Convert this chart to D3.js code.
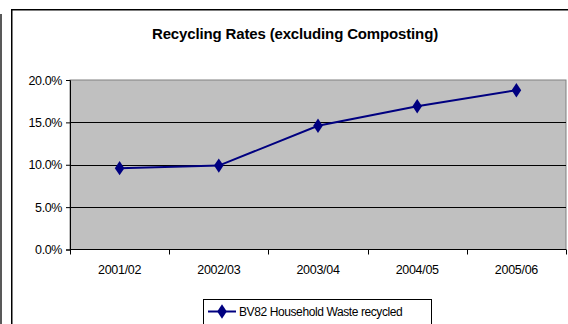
<!DOCTYPE html>
<html>
<head>
<meta charset="utf-8">
<script src="https://cdn.jsdelivr.net/npm/d3@7"></script>
<style>
  html, body { margin: 0; padding: 0; background: #fff; }
  svg { display: block; font-family: "Liberation Sans", Arial, sans-serif; }
</style>
</head>
<body>
<svg id="chart" width="568" height="324"></svg>
<script>
// Recycling rate per financial year (percent)
const years = ["2001/02", "2002/03", "2003/04", "2004/05", "2005/06"];
const recycled = [9.6, 9.9, 14.6, 16.9, 18.8];
const yTicks = [0, 5, 10, 15, 20];
const seriesName = "BV82 Household Waste recycled";
const chartTitle = "Recycling Rates (excluding Composting)";

const svg = d3.select("#chart");
const plot = { left: 70, top: 80, right: 566, bottom: 249.5 };

const x = d3.scaleBand().domain(years).range([plot.left, plot.right]);
const y = d3.scaleLinear().domain([0, 20]).range([plot.bottom, plot.top]);

// Outer page rule and chart frame
svg.append("line").attr("x1", 1).attr("x2", 1).attr("y1", 14).attr("y2", 324)
  .attr("stroke", "#222").attr("stroke-width", 1.5);
svg.append("path").attr("d", "M11.75,324V9.75H568")
  .attr("fill", "none").attr("stroke", "#000").attr("stroke-width", 1.5);

// Title
svg.append("text").attr("x", 295).attr("y", 38.5).attr("text-anchor", "middle")
  .attr("font-size", 15).attr("font-weight", "bold").attr("letter-spacing", -0.15)
  .text(chartTitle);

// Plot background
svg.append("rect").attr("x", plot.left).attr("y", plot.top)
  .attr("width", plot.right - plot.left).attr("height", plot.bottom - plot.top)
  .attr("fill", "#c0c0c0").attr("stroke", "#808080").attr("stroke-width", 1);

// Horizontal gridlines
svg.append("g").selectAll("line").data(yTicks.filter(t => t > 0 && t < 20)).join("line")
  .attr("x1", plot.left).attr("x2", plot.right)
  .attr("y1", d => Math.round(y(d)) + 0.5).attr("y2", d => Math.round(y(d)) + 0.5)
  .attr("stroke", "#000").attr("stroke-width", 1);

// Y axis
const yAxis = d3.axisLeft(y).tickValues(yTicks).tickSize(4).tickPadding(4)
  .tickFormat(d => d.toFixed(1) + "%");
const gy = svg.append("g").attr("transform", `translate(${plot.left},0)`).call(yAxis);
gy.select(".domain").attr("stroke", "#000");
gy.selectAll(".tick line").attr("stroke", "#000");
gy.selectAll(".tick text").attr("font-size", 12.5).attr("fill", "#000")
  .attr("font-family", "Liberation Sans, Arial, sans-serif").attr("letter-spacing", -0.4);

// X axis with ticks at band boundaries
const xAxis = d3.axisBottom(x).tickSize(0).tickPadding(16);
const gx = svg.append("g").attr("transform", `translate(0,${plot.bottom})`).call(xAxis);
gx.select(".domain").remove();
gx.selectAll(".tick text").attr("font-size", 12.5).attr("fill", "#000")
  .attr("font-family", "Liberation Sans, Arial, sans-serif").attr("letter-spacing", -0.3);
svg.append("line").attr("x1", plot.left).attr("x2", plot.right)
  .attr("y1", plot.bottom).attr("y2", plot.bottom).attr("stroke", "#000");
const bounds = years.map(d => x(d)).concat([plot.right]);
svg.append("g").selectAll("line").data(bounds).join("line")
  .attr("x1", d => Math.round(d) + 0.5).attr("x2", d => Math.round(d) + 0.5)
  .attr("y1", plot.bottom).attr("y2", plot.bottom + 5).attr("stroke", "#000");

// Series line and diamond markers
const cx = d => x(d) + x.bandwidth() / 2;
const line = d3.line().x((d, i) => cx(years[i])).y(d => y(d));
svg.append("path").datum(recycled).attr("d", line)
  .attr("fill", "none").attr("stroke", "#000080").attr("stroke-width", 2);
const diamond = d3.symbol().type(d3.symbolDiamond).size(60);
svg.append("g").selectAll("path").data(recycled).join("path")
  .attr("transform", (d, i) => `translate(${cx(years[i])},${y(d)}) scale(1.15,1)`)
  .attr("d", diamond).attr("fill", "#000080");

// Legend
const lg = svg.append("g");
lg.append("rect").attr("x", 203.5).attr("y", 299.5).attr("width", 228).attr("height", 30)
  .attr("fill", "#fff").attr("stroke", "#000").attr("stroke-width", 1);
lg.append("line").attr("x1", 208).attr("x2", 236).attr("y1", 311.5).attr("y2", 311.5)
  .attr("stroke", "#000080").attr("stroke-width", 2);
lg.append("path").attr("d", diamond).attr("transform", "translate(222,311.5) scale(1.15,1)")
  .attr("fill", "#000080");
lg.append("text").attr("x", 239).attr("y", 316).attr("font-size", 12)
  .attr("letter-spacing", -0.4).text(seriesName);
</script>
</body>
</html>
